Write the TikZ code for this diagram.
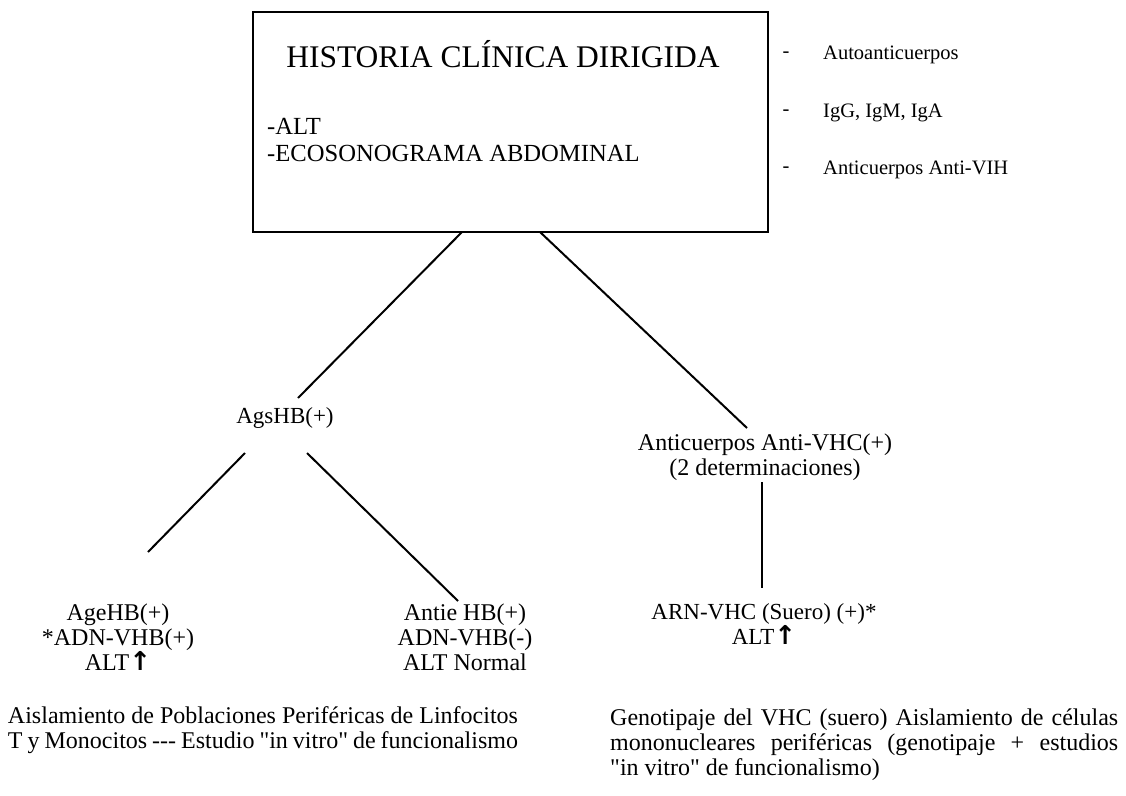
\documentclass[tikz,border=0pt]{standalone}
\usepackage{fontspec}
\setmainfont{Liberation Serif}[Ligatures=TeXOff]
\newfontfamily\arrfont{DejaVu Sans}
\newcommand{\uparr}{{\arrfont\bfseries\fontsize{26}{25}\selectfont ↑}}
\begin{document}
\begin{tikzpicture}[x=1pt,y=-1pt,
  txt/.style={inner sep=0pt, font=\fontsize{24}{25}\selectfont},
  lst/.style={inner sep=0pt, font=\fontsize{20.5}{25}\selectfont},
  ttl/.style={inner sep=0pt, font=\fontsize{31.5}{34}\selectfont},
  ln/.style={line width=2pt}]
\useasboundingbox (0,0) rectangle (1126,795);
\fill[white] (0,0) rectangle (1126,795);
% main box
\node[draw, line width=2pt, minimum width=515pt, minimum height=220pt, inner sep=0pt] (box) at (510.5,122) {};
\node[ttl] (title) at (503,54) {HISTORIA CLÍNICA DIRIGIDA};
\node[txt, font=\fontsize{24.6}{25}\selectfont, anchor=west] (alt) at (267,126) {-ALT};
\node[txt, font=\fontsize{24.6}{25}\selectfont, anchor=west] (eco) at (267,153) {-ECOSONOGRAMA ABDOMINAL};
% right list
\node[lst] (d1) at (786,55) {-};
\node[lst] (d2) at (786,113) {-};
\node[lst] (d3) at (786,170) {-};
\node[lst, anchor=west] (auto) at (823,55) {Autoanticuerpos};
\node[lst, anchor=west] (ig) at (823,113) {IgG, IgM, IgA};
\node[lst, anchor=west] (vih) at (823,170) {Anticuerpos Anti-VIH};
% level 2
\node[txt, font=\fontsize{23}{25}\selectfont] (ags) at (285,418) {AgsHB(+)};
\node[txt, align=center] (vhc) at (765,457) {Anticuerpos Anti-VHC(+)\\(2 determinaciones)};
% level 3
\node[txt, align=center] (age) at (118,637) {AgeHB(+)\\*ADN-VHB(+)\\ALT\uparr};
\node[txt, align=center] (antie) at (465,637) {Antie HB(+)\\ADN-VHB(-)\\ALT Normal};
\node[txt, font=\fontsize{23}{25}\selectfont, align=center] (arn) at (764,624) {ARN-VHC (Suero) (+)*\\ALT\uparr};
% bottom texts
\node[txt, align=left] (bl) at (263,730) {\makebox[510pt][s]{Aislamiento de Poblaciones Periféricas de Linfocitos}\\\makebox[510pt][s]{T y Monocitos --- Estudio "in vitro" de funcionalismo}};
\node[txt, anchor=west, align=left] (br) at (610,745) {\makebox[508pt][s]{Genotipaje del VHC (suero) Aislamiento de células}\\\makebox[508pt][s]{mononucleares periféricas (genotipaje + estudios}\\"in vitro" de funcionalismo)};
% connectors
\coordinate (b1) at (462,232);
\coordinate (b2) at (540,232);
\coordinate (a1) at (298,398);
\coordinate (v1) at (747,428);
\coordinate (g1) at (245,453);
\coordinate (g2) at (148,552);
\coordinate (h1) at (307,453);
\coordinate (h2) at (458,601);
\coordinate (k1) at (762,482);
\coordinate (k2) at (762,588);
\draw[ln] (b1) -- (a1);
\draw[ln] (b2) -- (v1);
\draw[ln] (g1) -- (g2);
\draw[ln] (h1) -- (h2);
\draw[ln] (k1) -- (k2);
\end{tikzpicture}
\end{document}
